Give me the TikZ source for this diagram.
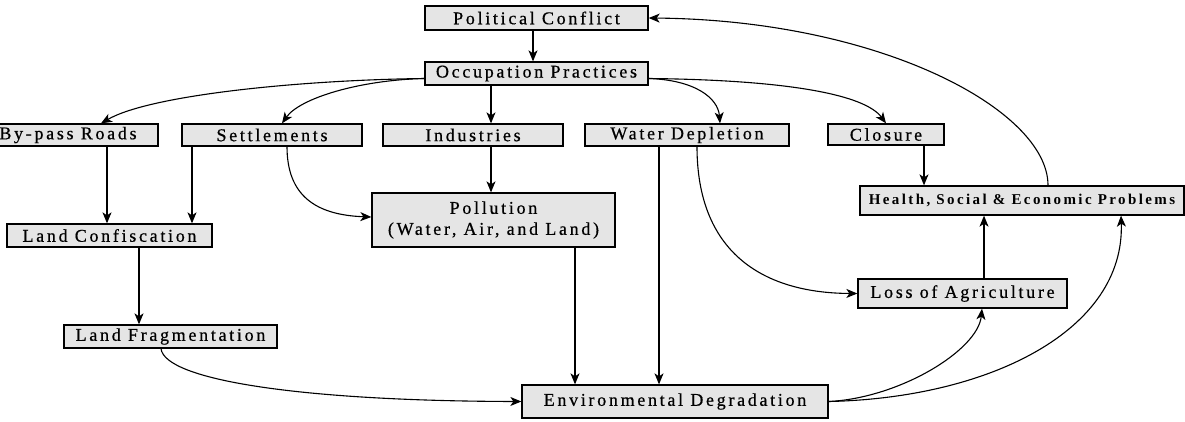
\documentclass[tikz,border=0pt]{standalone}
\usepackage{fontspec}
\setmainfont{Liberation Serif}
\newfontfamily\boxfont[LetterSpace=15,FakeBold=0.6]{Liberation Serif}
\newfontfamily\heafont[LetterSpace=16]{Liberation Serif}
\usetikzlibrary{arrows.meta}
\begin{document}
\begin{tikzpicture}[x=1pt,y=-1pt,
  box/.style={draw=black, line width=1.3pt, fill=black!10, inner sep=0pt, align=center,
    font=\boxfont\fontsize{18}{21}\selectfont},
  arr/.style={-{Stealth[length=11pt,width=9pt,inset=3pt]}, line width=1.1pt}]
\useasboundingbox (0,0) rectangle (1185,421);
\clip (0,0) rectangle (1185,421);
% nodes
\node[box, minimum width=223pt, minimum height=24pt] (pol) at (536.5,18) {Political Conflict};
\node[box, minimum width=223pt, minimum height=23pt] (occ) at (536.5,73.5) {Occupation Practices};
\node[box, minimum width=180pt, minimum height=22pt] (byp) at (68,135) {By-pass Roads};
\node[box, minimum width=180pt, minimum height=22pt] (set) at (272,135) {Settlements};
\node[box, minimum width=180pt, minimum height=22pt] (ind) at (473,135) {Industries};
\node[box, minimum width=204pt, minimum height=22pt] (wat) at (687,135) {Water Depletion};
\node[box, minimum width=116pt, minimum height=21pt] (clo) at (886,134.5) {Closure};
\node[box, minimum width=324pt, minimum height=29pt, font=\heafont\bfseries\fontsize{15}{17}\selectfont] (hea) at (1022,200.5) {Health, Social \& Economic Problems};
\node[box, minimum width=243pt, minimum height=54pt] (plt) at (493.5,220) {Pollution\\(Water, Air, and Land)};
\node[box, minimum width=205pt, minimum height=23pt] (lcf) at (109.5,235.5) {Land Confiscation};
\node[box, minimum width=213pt, minimum height=23pt] (lfr) at (170.5,336.5) {Land Fragmentation};
\node[box, minimum width=209pt, minimum height=29pt] (loa) at (962.5,293.5) {Loss of Agriculture};
\node[box, minimum width=306pt, minimum height=33pt] (env) at (675,401.5) {Environmental Degradation};
% straight connectors
\draw[arr] ([xshift=-3.5pt]pol.south) -- ([xshift=-3.5pt]occ.north);
\draw[arr] ([xshift=-45.5pt]occ.south) -- ([xshift=18pt]ind.north);
\draw[arr] ([xshift=39pt]byp.south) -- ([xshift=-2.5pt]lcf.north);
\draw[arr] ([xshift=-80pt]set.south) -- ([xshift=82.5pt]lcf.north);
\draw[arr] ([xshift=18pt]ind.south) -- ([xshift=-2.5pt]plt.north);
\draw[arr] ([xshift=81.5pt]plt.south) -- ([xshift=-100pt]env.north);
\draw[arr] ([xshift=-28pt]wat.south) -- ([xshift=-16pt]env.north);
\draw[arr] ([xshift=29.5pt]lcf.south) -- ([xshift=-31.5pt]lfr.north);
\draw[arr] ([xshift=38pt]clo.south) -- ([xshift=-98pt]hea.north);
\draw[arr] ([xshift=21.5pt]loa.north) -- ([xshift=-38pt]hea.south);
% curved connectors
\draw[arr] ([yshift=-5pt]occ.west) .. controls (300,80) and (150,95) .. ([xshift=33pt]byp.north);
\draw[arr] ([yshift=-5pt]occ.west) .. controls (360,80) and (300,98) .. ([xshift=10pt]set.north);
\draw[arr] ([yshift=-5pt]occ.east) .. controls (695,80) and (718,98) .. ([xshift=33pt]wat.north);
\draw[arr] ([yshift=-5pt]occ.east) .. controls (790,80) and (865,95) .. (clo.north);
\draw[arr] ([xshift=26pt]hea.north) .. controls (1048,110) and (880,20) .. (pol.east);
\draw[arr] ([xshift=15pt]set.south) .. controls (287,195) and (315,215) .. ([yshift=3pt]plt.west);
\draw[arr] ([xshift=10pt]wat.south) .. controls (697,250) and (760,293) .. (loa.west);
\draw[arr] ([xshift=-9.5pt]lfr.south) .. controls (165,380) and (300,401) .. (env.west);
\draw[arr] (env.east) .. controls (900,398) and (978,350) .. ([xshift=19.5pt]loa.south);
\draw[arr] (env.east) .. controls (990,398) and (1125,330) .. ([xshift=99pt]hea.south);
\end{tikzpicture}
\end{document}
